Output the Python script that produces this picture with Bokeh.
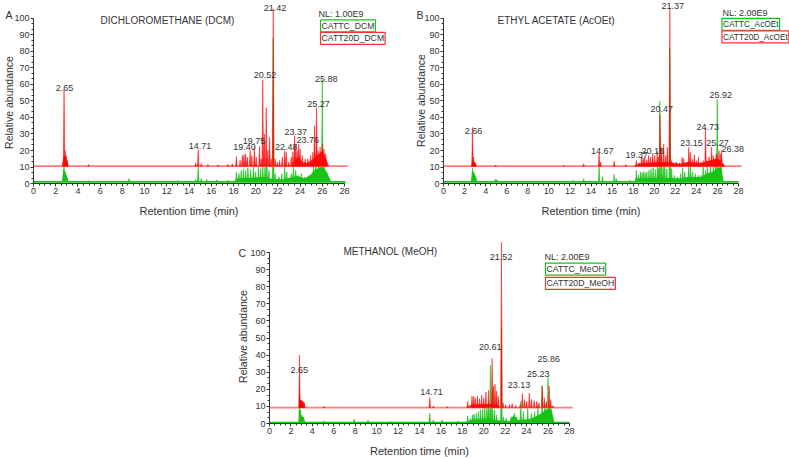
import math
from bokeh.plotting import figure
from bokeh.models import Label, LabelSet, Range1d, SingleIntervalTicker, ColumnDataSource, Spacer
from bokeh.layouts import row, column
from bokeh.core.properties import value
from bokeh.embed import file_html
from bokeh.resources import INLINE

FONT = "Liberation Sans"
RED = "#ff0000"
GREEN = "#16c416"
TXT = "#333333"
HALF_W = 0.07

# ---------------- data ----------------
x_ticks_max = 28
y_ticks_max = 100

# Panel A : dichloromethane
A_red_base = 10.5
A_green_base = 1.0
A_red_end = 28.3
A_green_end = 28.1
A_red_t = [2.75, 2.85, 2.95, 3.05, 4.95, 14.6, 14.83, 15.1, 15.7, 16.6, 17.5, 17.9, 18.27, 18.6, 18.8,
           18.95, 19.1, 19.25, 19.5, 19.65, 19.88, 20.05, 20.35, 20.5, 20.64, 20.78, 20.95, 21.1, 21.25,
           21.4, 21.58, 21.75, 21.95, 22.15, 22.4, 22.62, 22.75, 22.98, 23.2, 23.35, 23.5, 23.62, 23.75,
           23.88, 24.0, 24.2, 24.45, 24.7, 24.95, 25.15, 25.3, 25.48, 25.62, 25.8, 26.0, 26.15, 26.3]
A_red_h = [57, 20, 17, 14, 11.5, 12.5, 20.5, 12, 11.5, 11.3, 11.6, 12, 16.5, 14, 17,
           17.5, 18, 16, 20, 17, 22.5, 16, 22.5, 15, 63, 30, 46, 20, 28,
           15, 106, 15, 13, 14, 16, 20, 19, 13, 16, 19, 29, 24, 20,
           24, 21, 17, 15, 15, 17, 19, 35, 46, 20, 22, 24, 21, 18]
A_green_t = [2.75, 2.85, 2.95, 3.05, 4.95, 8.6, 13.0, 14.6, 14.83, 15.1, 15.6, 16.5, 17.5, 18.27, 18.5,
             18.7, 18.9, 19.1, 19.3, 19.55, 19.8, 20.0, 20.25, 20.45, 20.64, 20.85, 21.0, 21.2, 21.58,
             21.75, 22.1, 22.35, 22.62, 22.8, 23.2, 23.4, 23.6, 23.8, 24.1, 24.4, 24.8, 25.2, 25.4,
             25.65, 25.8, 26.0, 26.2, 26.4]
A_green_h = [10.5, 7, 5, 3.5, 1.8, 3, 2, 2.5, 10.5, 3, 2.5, 2.2, 2, 7, 6,
             8, 9, 8, 9.5, 8.5, 10, 7, 10, 9, 12, 12, 15, 8, 88,
             6, 4, 6, 10.5, 7, 6, 11, 8, 5, 6, 4, 5, 11, 18,
             11, 12, 63, 10, 7]
A_red_humps = [([2.55, 2.7, 2.85, 3.0, 3.15], [10.5, 16, 17, 14, 10.5]),
               ([23.2, 23.5, 23.9, 24.2, 24.6, 25.0, 25.4, 25.7, 26.0, 26.3, 26.6],
                [10.5, 14, 16, 13, 12.5, 14, 16, 18, 20, 16, 10.5])]
A_green_humps = [([2.55, 2.7, 2.85, 3.0, 3.15], [1, 9, 7, 4, 1]),
                 ([18.1, 18.3, 19.5, 20.8, 21.3, 22.5, 23.3, 23.8, 24.4, 24.9, 25.3, 25.7, 26.1, 26.4, 26.8],
                  [1, 3, 3.5, 4, 3, 2.5, 4, 4.5, 3, 5, 8, 9.5, 10, 7, 1])]
A_lab_text = ["2.65", "14.71", "19.40", "19.75", "20.52", "21.42", "22.48", "23.37", "23.76", "25.27", "25.88"]
A_lab_x = [2.8, 15.0, 19.0, 19.85, 20.85, 21.75, 22.75, 23.6, 24.7, 25.65, 26.35]
A_lab_y = [58, 22.6, 22.0, 25.6, 65.5, 106.5, 22.0, 31.1, 26.1, 47.9, 63.4]

# Panel B : ethyl acetate
B_red_base = 10.5
B_green_base = 1.0
B_red_end = 28.3
B_green_end = 28.0
B_red_t = [2.75, 2.85, 2.95, 3.05, 4.95, 11.4, 13.3, 14.77, 14.9, 16.2, 17.3, 18.3, 18.6, 18.8, 18.95,
           19.1, 19.3, 19.47, 19.65, 19.85, 20.05, 20.28, 20.4, 20.55, 20.7, 20.9, 21.1, 21.25, 21.48,
           21.65, 21.85, 22.1, 22.4, 22.65, 22.8, 23.05, 23.28, 23.42, 23.6, 23.8, 24.0, 24.2, 24.45,
           24.65, 24.87, 25.0, 25.2, 25.44, 25.6, 25.75, 25.88, 26.0, 26.15, 26.28, 26.39, 26.55]
B_red_h = [34, 16, 13, 12, 11.2, 11, 12, 18.5, 13, 13.5, 11.5, 14, 12.5, 16.5, 15.5,
           16, 14.5, 17, 16, 18, 17, 19.5, 16, 42, 22, 24, 17, 22, 106,
           14, 12.5, 13, 12.5, 16, 15, 13, 22, 19, 15, 17.5, 14, 16, 13,
           14, 33.5, 14, 16, 22, 17, 15, 18, 17, 20, 18, 20, 12]
B_green_t = [2.75, 2.85, 2.95, 3.05, 4.95, 5.1, 12.3, 13.3, 14.77, 15.1, 16.2, 16.4, 17.7, 18.3, 18.5,
             18.7, 18.85, 19.0, 19.15, 19.3, 19.5, 19.7, 19.9, 20.1, 20.3, 20.42, 20.53, 20.7, 20.85,
             21.0, 21.2, 21.48, 21.65, 21.9, 22.2, 22.5, 22.7, 22.9, 23.1, 23.28, 23.45, 23.65, 23.9,
             24.2, 24.45, 24.65, 24.87, 25.05, 25.35, 25.6, 25.8, 25.98, 26.15, 26.35]
B_green_h = [9.5, 6.5, 5.5, 4, 2.5, 2.2, 2, 3, 10.5, 4, 5.5, 3, 2, 8, 5,
             7, 6.5, 7.5, 6.5, 7, 8, 9, 9.5, 8.5, 10, 9, 50, 12, 11,
             12, 9, 82, 9, 5, 4, 6, 9.5, 7, 4, 12, 10, 7, 6,
             5, 5, 12, 8, 12, 14, 11, 14, 51, 13, 12]
B_red_humps = [([2.6, 2.75, 2.9, 3.05, 3.15], [10.5, 14, 13.5, 12, 10.5]),
               ([18.1, 18.4, 20.4, 21.2, 22.5, 23.2, 24.5, 25.3, 25.9, 26.3, 26.7],
                [10.5, 12, 13, 13, 12, 13, 12.5, 14, 15, 14, 10.5])]
B_green_humps = [([2.6, 2.75, 2.9, 3.05, 3.2], [1, 8, 6.5, 4.5, 1]),
                 ([4.7, 4.95, 5.2], [1, 2.5, 1]),
                 ([18.1, 18.3, 20.5, 22.4, 23.2, 24.5, 25.0, 25.5, 26.0, 26.35, 26.6],
                  [1, 3, 3.5, 3, 4, 4, 6, 7, 9, 10, 1])]
B_lab_text = ["2.66", "14.67", "19.37", "20.18", "20.47", "21.37", "23.15", "24.73", "25.27", "25.92", "26.38"]
B_lab_x = [2.85, 15.06, 18.35, 19.87, 20.72, 21.76, 23.54, 25.08, 26.0, 26.32, 27.46]
B_lab_y = [31.7, 19.4, 17.0, 19.6, 45.3, 107.5, 24.7, 34.5, 24.4, 53.9, 21.0]

# Panel C : methanol
C_red_base = 9.3
C_green_base = 0.6
C_red_end = 28.3
C_green_end = 28.0
C_red_t = [2.8, 2.9, 3.0, 3.1, 3.25, 5.1, 14.96, 15.3, 16.6, 18.5, 18.9, 19.05, 19.2, 19.4, 19.6,
           19.8, 20.0, 20.2, 20.45, 20.78, 20.92, 21.05, 21.2, 21.35, 21.65, 21.8, 22.05, 22.4, 22.65,
           23.0, 23.4, 23.6, 23.8, 24.0, 24.25, 24.45, 24.7, 24.95, 25.15, 25.45, 25.65, 25.85, 26.1,
           26.25, 26.45]
C_red_h = [40, 14, 13.5, 13, 12, 10, 15.2, 10.3, 9.8, 13, 16, 16, 15, 16, 14.5,
           16.5, 15, 18.5, 19.5, 38, 22, 23, 19, 16, 106, 12, 11, 11, 11.5,
           10.5, 11, 17.5, 14, 13, 17.8, 14, 13.5, 13, 12, 22, 15, 13, 22,
           14, 10.5]
C_green_t = [2.8, 2.9, 3.0, 3.15, 5.1, 7.9, 9.2, 11.3, 14.96, 15.3, 16.1, 17.6, 18.5, 18.75, 18.95,
             19.1, 19.3, 19.5, 19.7, 19.9, 20.1, 20.3, 20.45, 20.62, 20.8, 21.0, 21.2, 21.65, 21.85,
             22.1, 22.55, 22.85, 23.05, 23.45, 23.7, 24.1, 24.45, 24.75, 25.05, 25.45, 25.7, 26.0, 26.2]
C_green_h = [17, 8, 5, 3.5, 1.5, 2.5, 2, 1.2, 6, 2, 2, 1.5, 4.5, 3, 5,
             5.5, 6, 7, 8, 8.5, 9, 10, 11, 34, 20, 8, 5, 56, 4,
             3, 4, 6, 4, 13, 7, 9, 6, 7, 10, 22, 12, 27, 9]
C_red_humps = [([2.7, 2.8, 3.0, 3.2, 3.35], [9.3, 13.6, 13.5, 12.5, 9.3]),
               ([18.4, 18.8, 20.5, 21.3, 21.6], [9.3, 11, 11.5, 11, 9.3])]
C_green_humps = [([2.7, 2.85, 3.0, 3.2, 3.35], [0.6, 6, 4.5, 3.5, 0.6]),
                 ([18.3, 18.8, 20.5, 21.1, 22.4, 22.8, 23.2, 24.2, 24.8, 25.4, 25.9, 26.3, 26.6],
                  [0.6, 2, 3, 2, 1.5, 5, 2, 2.5, 4, 6, 8.5, 9, 0.6])]
C_lab_text = ["2.65", "14.71", "20.61", "21.52", "23.13", "25.23", "25.86"]
C_lab_x = [2.77, 15.12, 20.6, 21.62, 23.3, 25.08, 26.07]
C_lab_y = [31.0, 18.7, 45.0, 97.3, 22.8, 28.7, 37.8]

titles = ["DICHLOROMETHANE (DCM)", "ETHYL ACETATE (AcOEt)", "METHANOL (MeOH)"]
letters = ["A", "B", "C"]
nl_texts = ["NL: 1.00E9", "NL: 2.00E9", "NL: 2.00E9"]
green_names = ["CATTC_DCM", "CATTC_AcOEt", "CATTC_MeOH"]
red_names = ["CATT20D_DCM", "CATT20D_AcOEt", "CATT20D_MeOH"]
x_label = "Retention time (min)"
y_label = "Relative abundance"


def spikes(times, tops, base):
    xs = [[t - HALF_W, t, t + HALF_W] for t in times]
    ys = [[base, h, base] for h in tops]
    return xs, ys


def panel(width, height, xr, yr,
          red_t, red_h, red_base, red_end, green_t, green_h, green_base, green_end,
          red_humps, green_humps, lab_text, lab_x, lab_y, idx, pos):
    p = figure(width=width, height=height, x_range=Range1d(*xr), y_range=Range1d(*yr),
               output_backend="svg", toolbar_location=None, title_location=None,
               min_border=0, min_border_left=0, min_border_right=0, min_border_top=0, min_border_bottom=0)
    p.outline_line_color = None
    p.xgrid.visible = False
    p.ygrid.visible = False
    p.background_fill_color = "white"
    p.border_fill_color = "white"

    # green trace
    p.line([0, green_end], [green_base, green_base], line_color=GREEN, line_width=1.6)
    for ht, hy in green_humps:
        p.varea(x=ht, y1=[green_base] * len(ht), y2=hy, fill_color=GREEN)
    gx, gy = spikes(green_t, green_h, green_base)
    p.patches(gx, gy, fill_color=GREEN, line_color=GREEN, line_width=0.6)

    # red trace (offset)
    p.line([0, red_end], [red_base, red_base], line_color="#ff7d7d", line_width=1.8)
    for ht, hy in red_humps:
        p.varea(x=ht, y1=[red_base] * len(ht), y2=hy, fill_color=RED, fill_alpha=0.85)
    rx, ry = spikes(red_t, red_h, red_base)
    p.patches(rx, ry, fill_color=RED, line_color=RED, fill_alpha=0.82, line_alpha=0.82, line_width=0.6)

    # axes, drawn at the data origin inside the frame
    for ax in (p.xaxis[0], p.yaxis[0]):
        ax.fixed_location = 0
        ax.axis_line_color = TXT
        ax.major_tick_line_color = TXT
        ax.minor_tick_line_color = TXT
        ax.major_tick_in = 0
        ax.minor_tick_in = 0
        ax.major_tick_out = 3
        ax.minor_tick_out = 2
        ax.major_label_text_font = FONT
        ax.major_label_text_font_size = "9px"
        ax.major_label_text_color = TXT
        ax.major_label_standoff = 1
    p.xaxis.ticker = SingleIntervalTicker(interval=2, num_minor_ticks=4)
    p.yaxis.ticker = SingleIntervalTicker(interval=10, num_minor_ticks=3)
    p.xaxis.bounds = (0, x_ticks_max)
    p.yaxis.bounds = (0, y_ticks_max)

    # peak labels
    src = ColumnDataSource(dict(x=lab_x, y=lab_y, text=lab_text))
    p.add_layout(LabelSet(x="x", y="y", text="text", source=src, text_font=value(FONT),
                          text_font_size=value("9px"), text_color=TXT,
                          text_align="center", text_baseline="middle"))

    def lab(x, y, text, size, color=TXT, align="left", angle=0.0, border=None):
        kw = dict(x=x, y=y, text=text, text_font=FONT, text_font_size=size, text_color=color,
                  text_align=align, text_baseline="middle", angle=angle)
        if border is not None:
            kw.update(border_line_color=border, border_line_width=1.2, background_fill_color="white",
                      padding=1)
        p.add_layout(Label(**kw))

    lab(pos["title"][0], pos["title"][1], titles[idx], "10px", align="center")
    lab(pos["letter"][0], pos["letter"][1], letters[idx], "10.5px")
    lab(pos["ylab"][0], pos["ylab"][1], y_label, "10.5px", align="center", angle=math.pi / 2)
    lab(x_ticks_max / 2, pos["xlab"], x_label, "11px", align="center")
    lab(pos["nl"][0], pos["nl"][1], nl_texts[idx], "9px")
    lab(pos["box"], pos["gbox"], green_names[idx], pos["bsize"], border=GREEN)
    lab(pos["box"], pos["rbox"], red_names[idx], pos["bsize"], border="#ff3030")
    return p


pA = panel(395, 225, (-2.971, 32.59), (-25.45, 110.9),
           A_red_t, A_red_h, A_red_base, A_red_end, A_green_t, A_green_h, A_green_base, A_green_end,
           A_red_humps, A_green_humps, A_lab_text, A_lab_x, A_lab_y, 0,
           dict(title=(12.06, 98.8), letter=(-2.52, 102.4), ylab=(-2.25, 49.1), xlab=-16.4,
                nl=(25.66, 102.6), box=25.84, gbox=95.5, rbox=87.9, bsize="8.7px"))
pB = panel(394, 225, (-4.556, 32.84), (-25.45, 110.9),
           B_red_t, B_red_h, B_red_base, B_red_end, B_green_t, B_green_h, B_green_base, B_green_end,
           B_red_humps, B_green_humps, B_lab_text, B_lab_x, B_lab_y, 1,
           dict(title=(10.73, 98.8), letter=(-2.56, 102.4), ylab=(-2.18, 50.3), xlab=-16.4,
                nl=(26.48, 103.2), box=26.43, gbox=96.4, rbox=88.8, bsize="8.3px"))
pC = panel(412, 234, (-3.827, 34.63), (-21.05, 115.8),
           C_red_t, C_red_h, C_red_base, C_red_end, C_green_t, C_green_h, C_green_base, C_green_end,
           C_red_humps, C_green_humps, C_lab_text, C_lab_x, C_lab_y, 2,
           dict(title=(11.29, 100.6), letter=(-2.89, 100.0), ylab=(-2.52, 50.9), xlab=-15.8,
                nl=(25.67, 97.4), box=25.76, gbox=90.3, rbox=82.0, bsize="8.7px"))

layout = column(row(pA, pB), row(Spacer(width=228, height=234), pC))
open("out.html", "w").write(file_html(layout, INLINE))
